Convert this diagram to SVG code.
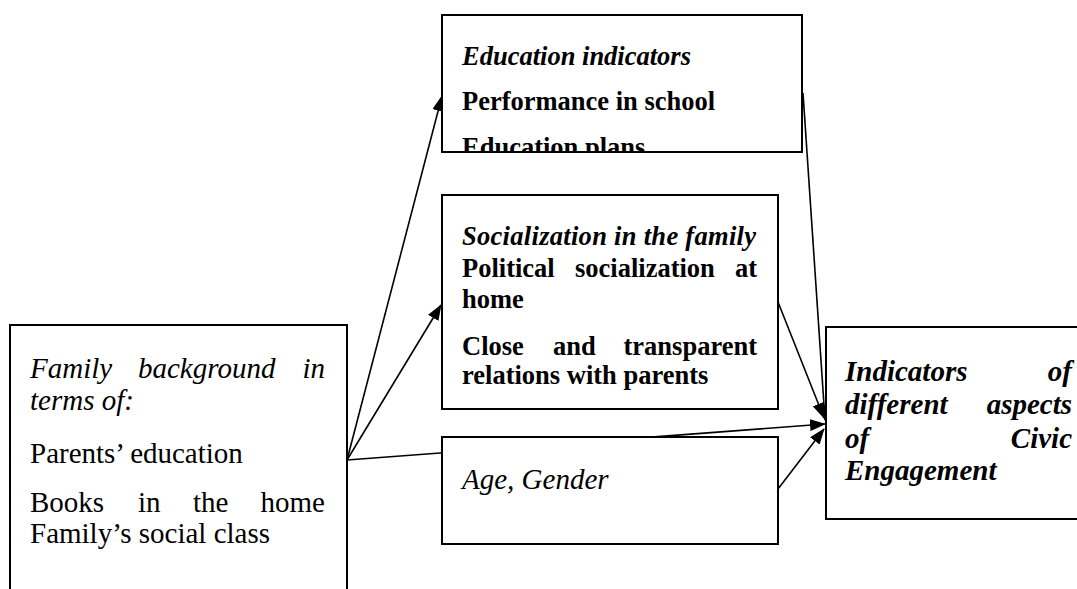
<svg xmlns="http://www.w3.org/2000/svg" width="1077" height="589" viewBox="0 0 1077 589">
<style>
.box{fill:#fff;stroke:#000;stroke-width:2}
.con{fill:none;stroke:#000;stroke-width:1.6}
.t{font-family:"Liberation Serif","Times New Roman",serif;fill:#000}
.r29{font-size:29px}
.i29{font-size:29px;font-style:italic}
.bi29{font-size:29px;font-style:italic;font-weight:bold}
.b26{font-size:26.5px;font-weight:bold}
.bi26{font-size:26.5px;font-style:italic;font-weight:bold}
</style>
<defs>
<marker id="arr" markerUnits="userSpaceOnUse" markerWidth="16" markerHeight="12" viewBox="0 0 16 12" refX="15" refY="6" orient="auto">
<path d="M0,0 L16,6 L0,12 Z" fill="#000"/>
</marker>
<clipPath id="clipTop"><rect x="442" y="15" width="360" height="136"/></clipPath>
</defs>
<g id="connectors">
<line class="con" x1="347" y1="460" x2="442" y2="96" marker-end="url(#arr)"/>
<line class="con" x1="347" y1="460" x2="441" y2="305" marker-end="url(#arr)"/>
<line class="con" x1="347" y1="460" x2="825" y2="424" marker-end="url(#arr)"/>
<line class="con" x1="803" y1="93" x2="825" y2="420" marker-end="url(#arr)"/>
<line class="con" x1="778" y1="302" x2="824" y2="418" marker-end="url(#arr)"/>
<line class="con" x1="778" y1="489" x2="824" y2="429" marker-end="url(#arr)"/>
</g>
<g id="family">
<rect class="box" x="10" y="325" width="337" height="290"/>
<text class="t i29" y="378"><tspan x="30">Family</tspan><tspan x="138">background</tspan><tspan x="325" text-anchor="end">in</tspan></text>
<text class="t i29" x="30" y="410">terms of:</text>
<text class="t r29" x="30" y="463">Parents’ education</text>
<text class="t r29" y="512"><tspan x="30">Books</tspan><tspan x="138">in</tspan><tspan x="193">the</tspan><tspan x="325" text-anchor="end">home</tspan></text>
<text class="t r29" x="30" y="543">Family’s social class</text>
</g>
<g id="education">
<rect class="box" x="442" y="15" width="360" height="137"/>
<g clip-path="url(#clipTop)">
<text class="t bi26" x="462" y="65">Education indicators</text>
<text class="t b26" x="462" y="110">Performance in school</text>
<text class="t b26" x="462" y="156">Education plans</text>
</g>
</g>
<g id="socialization">
<rect class="box" x="442" y="195" width="336" height="214"/>
<text class="t bi26" x="462" y="245" textLength="294" lengthAdjust="spacing">Socialization in the family</text>
<text class="t b26" y="277"><tspan x="462">Political</tspan><tspan x="575">socialization</tspan><tspan x="757" text-anchor="end">at</tspan></text>
<text class="t b26" x="462" y="308">home</text>
<text class="t b26" y="355"><tspan x="462">Close</tspan><tspan x="553">and</tspan><tspan x="757" text-anchor="end">transparent</tspan></text>
<text class="t b26" x="462" y="384">relations with parents</text>
</g>
<g id="agegender">
<rect class="box" x="442" y="437" width="336" height="107"/>
<text class="t i29" x="462" y="489">Age, Gender</text>
</g>
<g id="civic">
<rect class="box" x="826" y="327" width="270" height="192"/>
<text class="t bi29" y="381"><tspan x="845">Indicators</tspan><tspan x="1072" text-anchor="end">of</tspan></text>
<text class="t bi29" y="414"><tspan x="845">different</tspan><tspan x="1072" text-anchor="end">aspects</tspan></text>
<text class="t bi29" y="448"><tspan x="845">of</tspan><tspan x="1072" text-anchor="end">Civic</tspan></text>
<text class="t bi29" x="845" y="480">Engagement</text>
</g>
</svg>
